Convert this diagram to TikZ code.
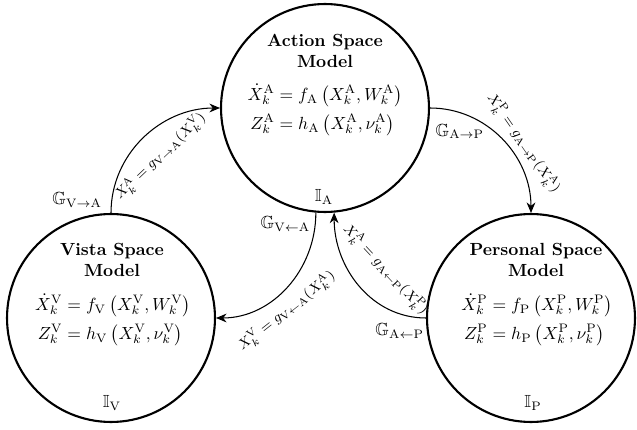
\documentclass[tikz,border=0pt]{standalone}
\usepackage{amsmath,amssymb}
\usetikzlibrary{arrows.meta}
\tikzset{
  model/.style={circle, draw, very thick, minimum size=4.16cm, inner sep=0pt},
  title/.style={align=center, font=\bfseries},
  conn/.style={semithick, -{Stealth[length=6pt,width=5pt]}},
  lab/.style={font=\footnotesize, inner sep=2pt},
  glab/.style={inner sep=1pt}
}
\begin{document}
\begin{tikzpicture}[x=0.02cm, y=0.02cm]
\useasboundingbox (0,0) rectangle (637,430);
% circles
\node[model] (A) at (325,322) {};
\node[model] (V) at (111,112) {};
\node[model] (P) at (531,112) {};
% Action content
\node[title] (At) at (325,379) {Action Space\\Model};
\node (Ae) at (325,320) {$\begin{aligned}\dot X_k^{\mathrm{A}} &= f_{\mathrm{A}}\left(X_k^{\mathrm{A}},W_k^{\mathrm{A}}\right)\\ Z_k^{\mathrm{A}} &= h_{\mathrm{A}}\left(X_k^{\mathrm{A}},\nu_k^{\mathrm{A}}\right)\end{aligned}$};
\node (AI) at (324,233) {$\mathbb{I}_{\mathrm{A}}$};
% Vista content
\node[title] (Vt) at (112,170) {Vista Space\\Model};
\node (Ve) at (113,110) {$\begin{aligned}\dot X_k^{\mathrm{V}} &= f_{\mathrm{V}}\left(X_k^{\mathrm{V}},W_k^{\mathrm{V}}\right)\\ Z_k^{\mathrm{V}} &= h_{\mathrm{V}}\left(X_k^{\mathrm{V}},\nu_k^{\mathrm{V}}\right)\end{aligned}$};
\node (VI) at (112,27) {$\mathbb{I}_{\mathrm{V}}$};
% Personal content
\node[title] (Pt) at (536,170) {Personal Space\\Model};
\node (Pe) at (537,110) {$\begin{aligned}\dot X_k^{\mathrm{P}} &= f_{\mathrm{P}}\left(X_k^{\mathrm{P}},W_k^{\mathrm{P}}\right)\\ Z_k^{\mathrm{P}} &= h_{\mathrm{P}}\left(X_k^{\mathrm{P}},\nu_k^{\mathrm{P}}\right)\end{aligned}$};
\node (PI) at (533,27) {$\mathbb{I}_{\mathrm{P}}$};
% connectors
\draw[conn] (V.north) to[out=90,in=180]
  node[lab, sloped, below=7pt, pos=0.5] (lVA) {$X_k^{\mathrm{A}} = g_{\mathrm{V}\to\mathrm{A}}(X_k^{\mathrm{V}})$} (A.west);
\draw[conn] (A.east) to[out=0,in=90]
  node[lab, sloped, above=1pt, pos=0.6] (lAP) {$X_k^{\mathrm{P}} = g_{\mathrm{A}\to\mathrm{P}}(X_k^{\mathrm{A}})$} (P.north);
\draw[conn] (A.-95) to[out=-90,in=0]
  node[lab, sloped, below=3pt, pos=0.6] (lAV) {$X_k^{\mathrm{V}} = g_{\mathrm{V}\leftarrow\mathrm{A}}(X_k^{\mathrm{A}})$} (V.east);
\draw[conn] (P.west) to[out=180,in=-90]
  node[lab, sloped, above=10pt, pos=0.46] (lPA) {$X_k^{\mathrm{A}} = g_{\mathrm{A}\leftarrow\mathrm{P}}(X_k^{\mathrm{P}})$} (A.-85);
% G labels
\node[glab, anchor=south east] (gVA) at ([xshift=-4pt,yshift=2pt]V.north) {$\mathbb{G}_{\mathrm{V}\to\mathrm{A}}$};
\node[glab, anchor=north west] (gAP) at ([xshift=2pt,yshift=-8pt]A.east) {$\mathbb{G}_{\mathrm{A}\to\mathrm{P}}$};
\node[glab, anchor=north east] (gAV) at ([xshift=-2pt,yshift=-1pt]A.-95) {$\mathbb{G}_{\mathrm{V}\leftarrow\mathrm{A}}$};
\node[glab, anchor=north east] (gPA) at ([xshift=0pt,yshift=-2pt]P.west) {$\mathbb{G}_{\mathrm{A}\leftarrow\mathrm{P}}$};
\end{tikzpicture}
\end{document}
